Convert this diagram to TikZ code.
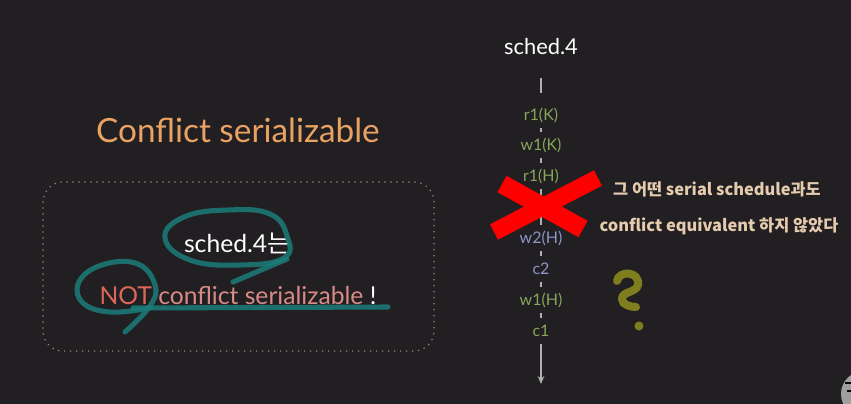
\documentclass[tikz,border=0pt]{standalone}
\usepackage{fontspec}
\setmainfont{Lato}
\newfontfamily\cjk{Noto Sans CJK KR}
\usetikzlibrary{arrows.meta}
\definecolor{bg}{HTML}{221F22}
\definecolor{orng}{HTML}{E9A262}
\definecolor{grn}{HTML}{86A65A}
\definecolor{blu}{HTML}{8F95C8}
\definecolor{beige}{HTML}{E6CCAE}
\definecolor{salmon}{HTML}{D98A86}
\definecolor{notred}{HTML}{DB6659}
\definecolor{dotc}{HTML}{9C7C7C}
\definecolor{tealc}{HTML}{1C7D79}
\definecolor{olive}{HTML}{7E7E1E}
\definecolor{linec}{HTML}{B0B0B0}
\tikzset{
  lab/.style={font=\fontsize{12}{14}\selectfont, minimum height=19pt, inner sep=0pt},
  tl/.style={draw=linec, line width=1.2pt},
  rt/.style={font=\cjk\bfseries\fontsize{12.3}{14}\selectfont, text=beige, inner sep=0pt},
  pen/.style={draw=tealc, line width=3.8pt, line cap=round, line join=round, opacity=0.85},
}
\begin{document}
\begin{tikzpicture}[x=0.75pt,y=-0.75pt]
\fill[bg] (0,0) rectangle (851,404);
\useasboundingbox (0,0) rectangle (851,404);

% left title
\node[font=\fontsize{25}{30}\selectfont, text=orng] (cs) at (238,130) {Conflict serializable};
\draw[dotc, line width=1.3pt, dash pattern=on 0pt off 4.5pt, line cap=round, rounded corners=15pt] (43,182) rectangle (434,351);
\node[font=\fontsize{18.5}{22}\selectfont, text=white] (s4) at (237,243) {sched.4{\cjk 는}};
\node[font=\fontsize{18.5}{22}\selectfont] (nc) at (238,296) {\textcolor{notred}{NOT} \textcolor{salmon}{conflict serializable} \textcolor{white}{!}};

% teal pen strokes
\draw[pen] plot[smooth cycle, tension=0.75] coordinates {(287,236) (270,214) (228,210) (184,217) (165,238) (190,260) (240,265) (284,258)};
\draw[pen] (233,282) -- (287,259);
\draw[pen] plot[smooth, tension=0.7] coordinates {(125,332) (150,306) (155,285) (138,264) (105,264) (80,280) (82,302) (110,312) (150,308)};
\draw[pen] (133,308) -- (388,307);

% timeline
\node[font=\fontsize{16.4}{19}\selectfont, text=white] (title) at (541,47) {sched.4};
\coordinate (top) at (541,78);
\node[lab, text=grn] (r1K) at (541,115) {r1(K)};
\node[lab, text=grn] (w1K) at (541,145) {w1(K)};
\node[lab, text=grn] (r1H) at (541,176) {r1(H)};
\node[lab, text=blu] (w2H) at (541,238) {w2(H)};
\node[lab, text=blu] (c2) at (541,269) {c2};
\node[lab, text=grn] (w1H) at (541,300) {w1(H)};
\node[lab, text=grn] (c1) at (541,331) {c1};
\coordinate (bot) at (541,384);
\draw[tl, shorten >=7pt] (top) -- (r1K);
\draw[tl] (r1K) -- (w1K);
\draw[tl] (w1K) -- (r1H);
\draw[tl] (r1H) -- (w2H);
\draw[tl] (w2H) -- (c2);
\draw[tl] (c2) -- (w1H);
\draw[tl] (w1H) -- (c1);
\draw[tl, -{Stealth[length=6pt,width=5pt]}] (c1) -- (bot);

% red X
\draw[red, line width=14pt] (502,184) -- (583,229);
\draw[red, line width=13pt] (598,178) -- (494,232);

% right texts
\node[rt] (k1) at (717,189) {그 어떤 serial schedule과도};
\node[rt] (k2) at (719,226) {conflict equivalent 하지 않았다};

% question mark
\draw[olive, line width=6pt, line cap=round] (617,281) .. controls (619,270) and (640,271) .. (638,285) .. controls (636,293) and (622,291) .. (622,299) .. controls (622,305) and (631,307) .. (636,307);
\fill[olive] (639,326) circle (4.5);

% corner icon
\fill[gray!75] (864,394) circle (23);
\draw[black, line width=1.5pt] (845,383) -- (852,383);
\draw[black, line width=1.5pt] (847,391) -- (852,391);
\end{tikzpicture}
\end{document}
